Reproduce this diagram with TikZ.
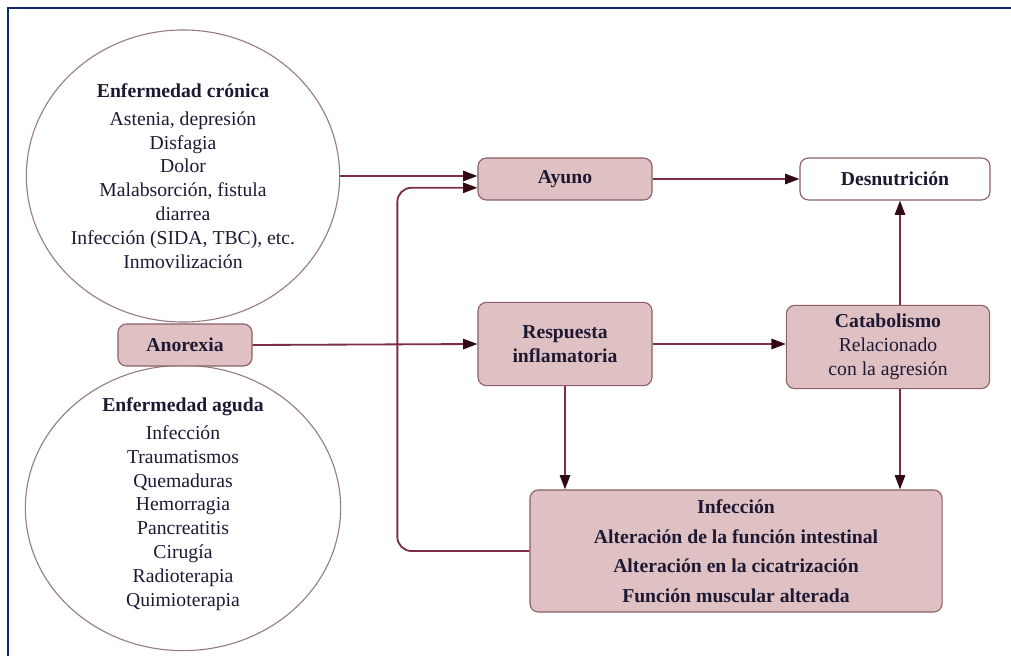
\documentclass[tikz,border=0pt]{standalone}
\usepackage{fontspec}
\setmainfont{Liberation Serif}
\usetikzlibrary{arrows.meta,positioning,shapes.geometric}
\definecolor{boxfill}{RGB}{223,193,196}
\definecolor{boxline}{RGB}{140,95,105}
\definecolor{arrowline}{RGB}{125,45,68}
\definecolor{tipcol}{RGB}{50,10,20}
\definecolor{textcol}{RGB}{30,25,50}
\definecolor{circline}{RGB}{150,125,130}
\definecolor{framecol}{RGB}{15,40,110}

\begin{document}
\begin{tikzpicture}[x=0.025cm,y=-0.025cm,text=textcol,
    font=\fontsize{14}{17}\selectfont,
    pinkbox/.style={draw=boxline,fill=boxfill,line width=0.8pt,rounded corners=6pt,align=center,font=\fontsize{14}{17}\selectfont\bfseries},
    whitebox/.style={pinkbox,fill=white},
    causa/.style={ellipse,draw=circline,line width=0.8pt},
    flecha/.style={draw=arrowline,line width=1.3pt,-{Triangle[length=0.36cm,width=0.26cm,color=tipcol]}}]
        \useasboundingbox (0,0) rectangle (1011,656);
        \draw[framecol,line width=2pt] (8,656) -- (8,8) -- (1011,8);

        \node[causa,minimum width=7.83cm,minimum height=7.3cm] (cronica) at (183,176) {};
        \node[align=center] (cronica-txt) at (cronica) {\textbf{Enfermedad crónica}\\[3pt]Astenia, depresión\\Disfagia\\Dolor\\Malabsorción, fistula\\diarrea\\Infección (SIDA, TBC), etc.\\Inmovilización};
        \node[causa,minimum width=7.88cm,minimum height=7.13cm] (aguda) at (183,508) {};
        \node[align=center] (aguda-txt) at (183,504) {\textbf{Enfermedad aguda}\\[3pt]Infección\\Traumatismos\\Quemaduras\\Hemorragia\\Pancreatitis\\Cirugía\\Radioterapia\\Quimioterapia};
        \node[pinkbox,minimum width=3.35cm,minimum height=1.05cm] (anorexia) at (185,345) {Anorexia};

        \node[pinkbox,minimum width=4.35cm,minimum height=1.05cm] (ayuno) at (565,179) {Ayuno};
        \node[whitebox,minimum width=4.75cm,minimum height=1.05cm] (desnutricion) at (895,179) {Desnutrición};
        \node[pinkbox,minimum width=4.35cm,minimum height=2.08cm] (respuesta) at (565,344) {Respuesta\\inflamatoria};
        \node[pinkbox,minimum width=5.08cm,minimum height=2.08cm] (catabolismo) at (888,347) {Catabolismo\\\mdseries Relacionado\\\mdseries con la agresión};
        \node[pinkbox,minimum width=10.3cm,minimum height=3.05cm,font=\fontsize{14}{21}\selectfont\bfseries] (efectos) at (736,551) {Infección\\Alteración de la función intestinal\\Alteración en la cicatrización\\Función muscular alterada};

        \draw[flecha] (cronica.east) -- (cronica.east -| ayuno.west);
        \draw[flecha,rounded corners=10pt] (efectos.west) -- ++(-3.3cm,0) |- ([yshift=-0.22cm]ayuno.west);
        \draw[flecha] (anorexia.east) -- (respuesta.west);
        \draw[flecha] (ayuno) -- (desnutricion);
        \draw[flecha] (respuesta.east) -- (respuesta.east -| catabolismo.west);
        \draw[flecha] ([xshift=0.3cm]catabolismo.north) -- ([xshift=0.3cm]catabolismo.north |- desnutricion.south);
        \draw[flecha] (respuesta.south) -- (respuesta.south |- efectos.north);
        \draw[flecha] ([xshift=0.3cm]catabolismo.south) -- ([xshift=0.3cm]catabolismo.south |- efectos.north);
    \end{tikzpicture}
\end{document}
